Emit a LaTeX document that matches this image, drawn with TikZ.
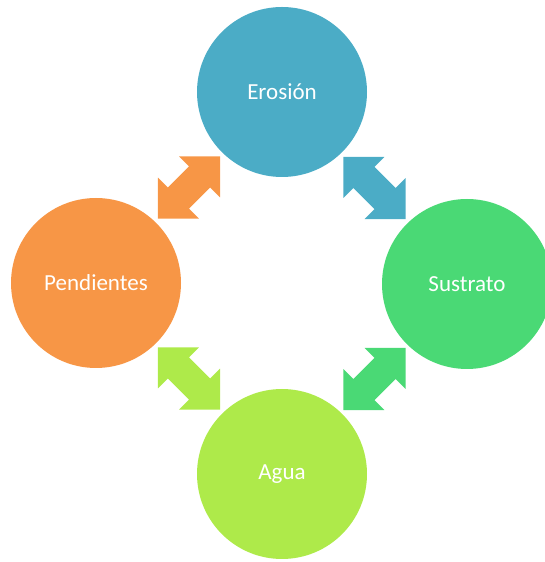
\documentclass[tikz,border=0pt]{standalone}
\usepackage{fontspec}
\setmainfont{Carlito}
\usetikzlibrary{calc}

\definecolor{azul}{HTML}{4BACC6}
\definecolor{verde}{HTML}{4AD975}
\definecolor{lima}{HTML}{AEEA4A}
\definecolor{naranja}{HTML}{F79646}

\begin{document}
\begin{tikzpicture}[x=1pt,y=1pt,
    tema/.style={circle,minimum size=170pt,inner sep=0pt,text=white,
                 font=\fontsize{23}{28}\selectfont},
    flecha/.pic={\path[pic actions] (-44,0) -- (-15,29) -- (-15,15) -- (15,15)
                 -- (15,29) -- (44,0) -- (15,-29) -- (15,-15) -- (-15,-15)
                 -- (-15,-29) -- cycle;}]

    \useasboundingbox (0,0) rectangle (545,562);

    \node[tema,fill=azul] (ero) at (282,470) {Erosión};
    \node[tema,fill=verde] (sus) at (467,278) {Sustrato};
    \node[tema,fill=lima] (agu) at (282,88) {Agua};
    \node[tema,fill=naranja] (pen) at (96,279) {Pendientes};

    % flechas entre los temas
    \pic (es) [fill=azul,rotate=-45] at ($(ero)!0.5!(sus)$) {flecha};
    \pic (sa) [fill=verde,rotate=45] at ($(sus)!0.5!(agu)$) {flecha};
    \pic (ap) [fill=lima,rotate=-45] at ($(agu)!0.5!(pen)$) {flecha};
    \pic (pe) [fill=naranja,rotate=45] at ($(pen)!0.5!(ero)$) {flecha};

\end{tikzpicture}
\end{document}
